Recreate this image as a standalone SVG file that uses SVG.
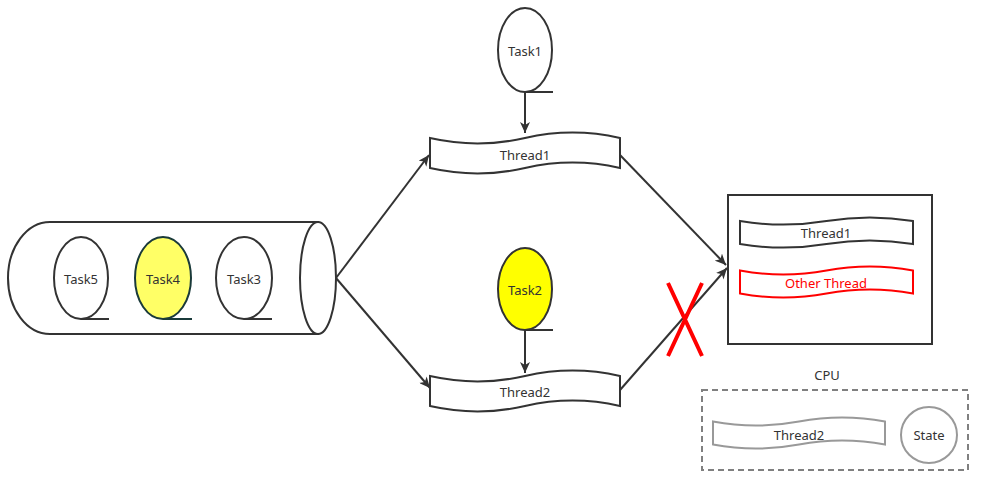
<svg xmlns="http://www.w3.org/2000/svg" width="984" height="495" viewBox="0 0 984 495">
<style>
.s{fill:#fff;stroke:#333;stroke-width:2}
.t{font-family:"Noto Sans","Open Sans",sans-serif;font-size:13px;fill:#333;text-anchor:middle;dominant-baseline:central}
.c{fill:none;stroke:#333;stroke-width:2}
.tail{fill:none;stroke:#333;stroke-width:2}
</style>
<defs>
<marker id="arr" markerWidth="12" markerHeight="10" refX="11" refY="5" orient="auto" markerUnits="userSpaceOnUse">
<path d="M0,0 L11,5 L0,10 L3,5 Z" fill="#333"/>
</marker>
</defs>
<rect width="984" height="495" fill="#fff"/>
<g id="queue">
<path class="s" d="M318,222 L50,222 A42,56 0 0 0 50,334 L318,334 Z"/>
<ellipse class="s" cx="318" cy="278" rx="18" ry="56"/>
</g>
<g id="task5">
<ellipse class="s" cx="81" cy="278" rx="27" ry="41"/>
<path class="tail" d="M81,319 H109"/>
<text class="t" x="81" y="279">Task5</text>
</g>
<g id="task4">
<ellipse cx="163" cy="278" rx="28" ry="41" fill="#ffff66" stroke="#1a3a3a" stroke-width="2"/>
<path d="M163,319 H192" fill="none" stroke="#1a3a3a" stroke-width="2"/>
<text class="t" x="163" y="279">Task4</text>
</g>
<g id="task3">
<ellipse class="s" cx="244" cy="278" rx="28" ry="41"/>
<path class="tail" d="M244,319 H272"/>
<text class="t" x="244" y="279">Task3</text>
</g>
<g id="task1">
<ellipse class="s" cx="525" cy="50" rx="27" ry="42"/>
<path class="tail" d="M525,92 H553"/>
<text class="t" x="525" y="51">Task1</text>
</g>
<g id="task2">
<ellipse cx="525" cy="289" rx="27" ry="41" fill="#ffff00" stroke="#333" stroke-width="2"/>
<path class="tail" d="M525,330 H553"/>
<text class="t" x="525" y="290">Task2</text>
</g>
<g id="thread1">
<path class="s" d="M430,138 Q477.5,148.8 525,138 Q572.5,127.2 620,138 L620,168 Q572.5,157.2 525,168 Q477.5,178.8 430,168 Z"/>
<text class="t" x="525" y="155">Thread1</text>
</g>
<g id="thread2">
<path class="s" d="M430,376 Q477.5,386.8 525,376 Q572.5,365.2 620,376 L620,406 Q572.5,395.2 525,406 Q477.5,416.8 430,406 Z"/>
<text class="t" x="525" y="392">Thread2</text>
</g>
<g id="cpuBox">
<rect class="s" x="728" y="195" width="204" height="149"/>
</g>
<g id="cpuThread1">
<path class="s" d="M740,221 Q783.25,228.2 826.5,221 Q869.75,213.8 913,221 L913,244 Q869.75,236.8 826.5,244 Q783.25,251.2 740,244 Z"/>
<text class="t" x="826" y="233">Thread1</text>
</g>
<g id="otherThread">
<path d="M740,270.5 Q783.25,278.6 826.5,270.5 Q869.75,262.4 913,270.5 L913,293.5 Q869.75,285.4 826.5,293.5 Q783.25,301.6 740,293.5 Z" fill="#fff" stroke="#ff0000" stroke-width="2"/>
<text class="t" x="826" y="283" style="fill:#ff0000">Other Thread</text>
</g>
<g id="cpu">
<text class="t" x="827" y="375">CPU</text>
<rect x="702" y="390" width="266" height="80" fill="none" stroke="#808080" stroke-width="2" stroke-dasharray="6,4"/>
</g>
<g id="cpuThread2">
<path d="M713,421.5 Q756,429.6 799,421.5 Q842,413.4 885,421.5 L885,444.5 Q842,436.4 799,444.5 Q756,452.6 713,444.5 Z" fill="#fff" stroke="#999" stroke-width="2"/>
<text class="t" x="799" y="435">Thread2</text>
</g>
<g id="state">
<circle cx="929" cy="435" r="28" fill="#fff" stroke="#999" stroke-width="2"/>
<text class="t" x="929" y="435">State</text>
</g>
<g id="connectors">
<path class="c" d="M525,92 L525,133" marker-end="url(#arr)"/>
<path class="c" d="M525,330 L525,373" marker-end="url(#arr)"/>
<path class="c" d="M336,278 L429,155" marker-end="url(#arr)"/>
<path class="c" d="M336,278 L430,388" marker-end="url(#arr)"/>
<path class="c" d="M620,155 L726,265" marker-end="url(#arr)"/>
<path class="c" d="M620,390 L727,268" marker-end="url(#arr)"/>
</g>
<g id="cross">
<path d="M668,283 L702,356 M702,283 L668,356" fill="none" stroke="#ff0000" stroke-width="4"/>
</g>
</svg>
